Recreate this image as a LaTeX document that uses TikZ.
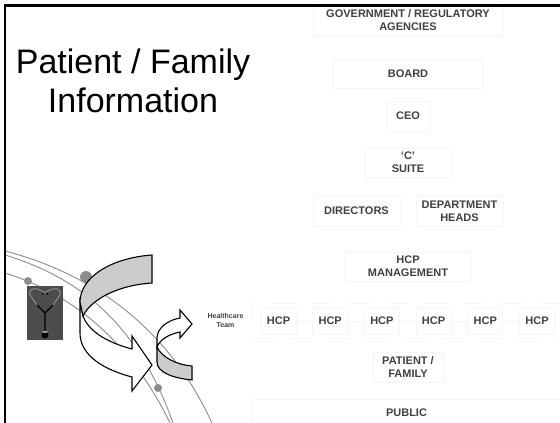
\documentclass[tikz,border=0pt]{standalone}
\usepackage{fontspec}
\setmainfont{Liberation Sans}
\usetikzlibrary{arrows,arrows.meta,positioning}
\definecolor{boxline}{HTML}{F5F5F5}
\definecolor{boxtext}{HTML}{404040}
\definecolor{arcline}{HTML}{8C8C8C}
\definecolor{bandfill}{HTML}{CCCCCC}
\tikzset{
    block/.style = {draw=boxline, rectangle, line width=.8pt, inner sep=0pt,
        text=boxtext, font=\fontsize{11}{13}\selectfont\bfseries, align=center},
    hcp/.style = {block, minimum height=26pt, minimum width=35pt, node distance=51.7pt},
    link/.style = {draw=boxline, line width=.8pt, {Latex[length=3pt]}-{Latex[length=3pt]}},
    arc/.style = {draw=arcline, line width=.9pt},
    dot/.style = {circle, fill=arcline, inner sep=0pt},
    turn/.style = {draw=black, line width=1.1pt, line join=miter}
}
\begin{document}
\begin{tikzpicture}[x=1pt,y=-1pt]
    \useasboundingbox (0,0) rectangle (560,423);
    % boxes
    \node [block, minimum width=190pt, minimum height=31pt] (gov) at (408,20.5) {GOVERNMENT / REGULATORY\\AGENCIES};
    \node [block, minimum width=149pt, minimum height=29pt] (board) at (408,73.5) {BOARD};
    \node [block, minimum width=44pt, minimum height=30pt] (ceo) at (408,116) {CEO};
    \node [block, minimum width=86pt, minimum height=29pt] (csuite) at (408,162.5) {`C'\\SUITE};
    \node [block, minimum width=87pt, minimum height=30pt] (directors) at (356.5,211) {DIRECTORS};
    \node [block, minimum width=87pt, minimum height=30pt] (heads) at (459.5,211) {DEPARTMENT\\HEADS};
    \node [block, minimum width=127pt, minimum height=29pt] (mgmt) at (408,266.5) {HCP\\MANAGEMENT};
    \node [hcp] (hcpa) at (278.5,321) {HCP};
    \node [hcp, right of=hcpa] (hcpb) {HCP};
    \node [hcp, right of=hcpb] (hcpc) {HCP};
    \node [hcp, right of=hcpc] (hcpd) {HCP};
    \node [hcp, right of=hcpd] (hcpe) {HCP};
    \node [hcp, right of=hcpe] (hcpf) {HCP};
    \foreach \a/\b in {hcpa/hcpb,hcpb/hcpc,hcpc/hcpd,hcpd/hcpe,hcpe/hcpf}
        \draw [link] (\a) -- (\b);
    \node [block, minimum width=70pt, minimum height=30pt] (patient) at (408,367) {PATIENT /\\FAMILY};
    \node [block, minimum width=309pt, anchor=north, text height=17pt, text depth=10pt] (public) at (406.5,399) {PUBLIC};
    \node [rectangle, draw=boxline, line width=.8pt, dash pattern=on 22pt off 16pt, minimum width=308pt, minimum height=35pt] (team) at (406,320.5) {};
    \node [text=boxtext, font=\fontsize{7}{9}\selectfont\bfseries, align=center] (teamlabel) at (225.5,320.5) {Healthcare\\Team};
    % title
    \node [font=\fontsize{34}{39}\selectfont, align=center, inner sep=0pt] (title) at (133,81) {Patient / Family\\Information};
    % arcs
    \draw [arc] (5,251) .. controls (70,268) and (160,310) .. (212,423);
    \draw [arc] (5,255) .. controls (70,275) and (135,315) .. (173,423);
    \draw [arc] (5,273) .. controls (60,290) and (125,330) .. (170,423);
    \node [dot, minimum size=12pt] (dota) at (86,277) {};
    \node [dot, minimum size=8pt] (dotb) at (28,281) {};
    \node [dot, minimum size=8pt] (dotc) at (158,388) {};
    % stethoscope
    \fill [black!70] (27,286) rectangle (63,340);
    \draw [black!45, line width=1pt] (37,305) -- (30,295) .. controls (28,290) and (33,288) .. (37,289) .. controls (41,290) and (44,292) .. (45,293) .. controls (46,292) and (49,290) .. (53,289) .. controls (57,288) and (62,290) .. (60,295) -- (53,305);
    \draw [black, line width=1.3pt] (37,305) -- (45,313) -- (53,305) (45,313) -- (45,331);
    \fill [black] (45,335) circle (3.5pt);
    \fill [black!25] (45,332) ellipse (3pt and .8pt);
    \fill [black] (43,293.5) circle (1pt) (47,293.5) circle (1pt);
    % big turn
    \draw [turn, fill=white] (80,302) -- (80,333) .. controls (80,356) and (105,370) .. (132,377) -- (132,391) -- (152,365) -- (132,336) -- (132,349) .. controls (105,342) and (88,330) .. (83,316) -- cycle;
    \draw [turn, fill=bandfill] (152,255) .. controls (110,258) and (80,278) .. (80,302) -- (83,316) .. controls (92,298) and (120,285) .. (152,283) -- cycle;
    % small turn
    \draw [turn, fill=white] (157,347) -- (157,338) .. controls (157,328) and (168,320) .. (180,318) -- (180,310) -- (192,324) -- (180,338) -- (180,332) .. controls (170,334) and (160,339) .. (157,347) -- cycle;
    \draw [turn, fill=bandfill] (157,347) .. controls (162,358) and (178,365) .. (192,366) -- (192,380) .. controls (172,378) and (157,372) .. (157,362) -- cycle;
    % frame
    \draw [black, line width=2.4pt] (5,423) -- (5,5.5) -- (560,5.5);
\end{tikzpicture}
\end{document}
